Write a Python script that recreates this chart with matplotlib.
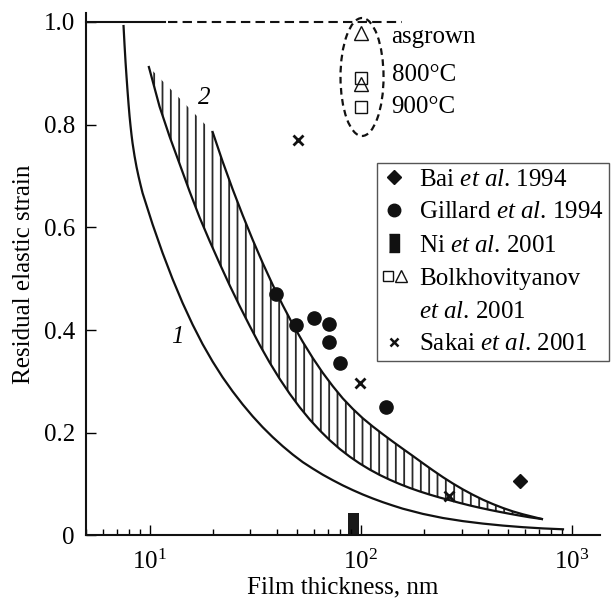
import numpy as np
import matplotlib
matplotlib.use("Agg")
import matplotlib.pyplot as plt
from matplotlib.lines import Line2D
from matplotlib.patches import Ellipse
from matplotlib.legend_handler import HandlerTuple

# ---- data ----
# curve 1
c1_x = [7.529, 7.612, 7.695, 7.780, 7.865, 7.951, 8.038, 8.126, 8.215, 8.305, 8.488, 8.676,
        8.870, 9.066, 9.265, 10.33, 11.52, 12.85, 14.33, 15.99, 17.83, 19.89, 22.18, 24.74,
        27.60, 30.78, 34.33, 38.29, 42.71, 47.63, 53.13, 59.26, 66.10, 73.72, 82.22, 91.70,
        102.2, 114.0, 127.2, 141.8, 158.2, 196.8, 244.8, 304.5, 378.8, 471.2, 586.1, 729.1, 906.9]
c1_y = [0.9920, 0.9550, 0.9219, 0.8927, 0.8654, 0.8401, 0.8168, 0.7973, 0.7797, 0.7642, 0.7389,
        0.7174, 0.6989, 0.6824, 0.6668, 0.6060, 0.5503, 0.4993, 0.4528, 0.4105, 0.3725, 0.3385,
        0.3079, 0.2804, 0.2551, 0.2319, 0.2107, 0.1914, 0.1737, 0.1575, 0.1427, 0.1301, 0.1182,
        0.1075, 0.0974, 0.0882, 0.0797, 0.0719, 0.0647, 0.0582, 0.0520, 0.0419, 0.0339, 0.0278,
        0.0230, 0.0191, 0.0160, 0.0136, 0.0119]

# band 2, lower boundary
lo_x = [9.924, 10.0, 11.15, 12.44, 13.88, 15.48, 17.26, 19.25, 21.47, 23.94, 26.71, 29.78,
        33.22, 37.05, 41.32, 46.09, 51.40, 57.33, 63.94, 71.32, 79.54, 88.71, 98.91, 110.3,
        123.0, 137.2, 153.0, 170.7, 190.4, 212.3, 236.8, 264.1, 294.6, 328.6, 366.5, 408.7,
        455.9, 508.4, 567.1, 632.5, 720.8]
lo_y = [0.9122, 0.9073, 0.8352, 0.7768, 0.7233, 0.6697, 0.6191, 0.5733, 0.5295, 0.4872, 0.4467,
        0.4082, 0.3710, 0.3365, 0.3048, 0.2758, 0.2495, 0.2257, 0.2045, 0.1854, 0.1683, 0.1533,
        0.1400, 0.1282, 0.1177, 0.1084, 0.1000, 0.0924, 0.0856, 0.0794, 0.0737, 0.0685, 0.0632,
        0.0583, 0.0538, 0.0496, 0.0457, 0.0420, 0.0385, 0.0352, 0.0319]
# band 2, upper boundary
up_x = [19.89, 22.18, 24.74, 27.60, 30.78, 34.33, 38.29, 42.71, 47.63, 53.13, 59.26, 66.10,
        73.72, 82.22, 91.70, 102.2, 114.0, 127.2, 141.8, 158.2, 176.4, 196.8, 219.5, 244.8,
        273.0, 304.5, 339.6, 378.8, 422.5, 471.2, 525.5, 586.1, 653.7, 720.8]
up_y = [0.7856, 0.7281, 0.6742, 0.6236, 0.5757, 0.5305, 0.4880, 0.4483, 0.4113, 0.3770, 0.3455,
        0.3166, 0.2906, 0.2668, 0.2464, 0.2282, 0.2121, 0.1971, 0.1827, 0.1686, 0.1548, 0.1406,
        0.1268, 0.1135, 0.1011, 0.0896, 0.0791, 0.0695, 0.0610, 0.0534, 0.0467, 0.0411, 0.0362,
        0.0319]

# strain = 1 reference line
ref_solid_x = [5, 11.8]
ref_dash_x = [12.2, 156]

# experiments
bai_x, bai_y = [567], [0.105]
gil_x = [39.5, 49.6, 59.8, 70.8, 70.7, 79.5, 131]
gil_y = [0.470, 0.409, 0.423, 0.412, 0.377, 0.336, 0.251]
ni_left, ni_width, ni_h = 86.7, 11.1, 0.044
bol_tri_x, bol_tri_y = [100, 100], [0.978, 0.880]
bol_sq_x, bol_sq_y = [100, 100], [0.890, 0.834]
sak_x = [50.5, 98.9, 261]
sak_y = [0.770, 0.297, 0.077]

temp_labels = ["asgrown", "800°C", "900°C"]
temp_y = [0.970, 0.896, 0.834]

plt.rcParams.update({
    "font.family": ["Liberation Serif", "DejaVu Serif"],
    "font.size": 18,
    "mathtext.fontset": "custom",
    "mathtext.rm": "Liberation Serif",
    "mathtext.it": "Liberation Serif:italic",
    "hatch.linewidth": 1.3,
})

fig = plt.figure(figsize=(6.11, 6.05), dpi=100)
ax = fig.add_axes([86 / 611, (605 - 535.4) / 605, 514 / 611, 522.7 / 605])
ax.set_xscale("log")
ax.set_xlim(5, 1358)
ax.set_ylim(0, 1.018)

k = "#111111"
# hatched band
ax.fill(np.r_[lo_x, up_x[::-1]], np.r_[lo_y, up_y[::-1]],
        facecolor="none", edgecolor="#2a2a2a", hatch="||", linewidth=0)
ax.plot(lo_x, lo_y, color=k, lw=1.6)
ax.plot(up_x, up_y, color=k, lw=1.6)
ax.plot(c1_x, c1_y, color=k, lw=1.6)

ax.plot(ref_solid_x, [1, 1], color=k, lw=1.5, clip_on=False)
ax.plot(ref_dash_x, [1, 1], color=k, lw=1.5, dashes=(4.5, 2.5))

ax.add_patch(Ellipse((0.537, 0.877), 0.0837, 0.2257, transform=ax.transAxes,
                     fill=False, ls=(0, (3, 2)), lw=1.6, color=k))

ax.plot(bai_x, bai_y, "D", color=k, ms=7.5, ls="none")
ax.plot(gil_x, gil_y, "o", color=k, ms=9.5, ls="none")
ax.bar(ni_left, ni_h, width=ni_width, align="edge", color="#1a1a1a")
ax.plot(bol_tri_x, bol_tri_y, "^", mfc="none", mec=k, ms=10, mew=1, ls="none")
ax.plot(bol_sq_x, bol_sq_y, "s", mfc="none", mec=k, ms=8.5, mew=1, ls="none")
ax.plot(sak_x, sak_y, "x", color=k, ms=7, mew=2, ls="none")

for lab, yy in zip(temp_labels, temp_y):
    ax.text(140, yy, lab, ha="left", va="center", fontsize=18)

ax.text(13.6, 0.386, "1", fontstyle="italic", fontsize=18, ha="center", va="center")
ax.text(18.2, 0.852, "2", fontstyle="italic", fontsize=18, ha="center", va="center")

# legend
ni_proxy = Line2D([], [], ls="none", marker=[(-0.6, -1), (0.6, -1), (0.6, 1), (-0.6, 1)],
                  ms=13, color=k)
sq_h = Line2D([], [], ls="none", marker="s", mfc="none", mec=k, ms=7, mew=1)
tri_h = Line2D([], [], ls="none", marker="^", mfc="none", mec=k, ms=8, mew=1)
blank = Line2D([], [], ls="none")
sak_h = Line2D([], [], ls="none", marker="x", color=k, ms=6, mew=1.8)
bai_h = Line2D([], [], ls="none", marker="D", color=k, ms=7)
gil_h = Line2D([], [], ls="none", marker="o", color=k, ms=9)
leg = ax.legend([bai_h, gil_h, ni_proxy, (sq_h, tri_h), blank, sak_h],
                [r"Bai $\it{et\ al}$. 1994", r"Gillard $\it{et\ al}$. 1994",
                 r"Ni $\it{et\ al}$. 2001", "Bolkhovityanov", r"$\it{et\ al}$. 2001",
                 r"Sakai $\it{et\ al}$. 2001"],
                handler_map={tuple: HandlerTuple(ndivide=None, pad=0.0)},
                loc="upper right", bbox_to_anchor=(609 / 611, (605 - 163) / 605),
                bbox_transform=fig.transFigure, borderaxespad=0,
                fancybox=False, edgecolor="#555555", framealpha=1,
                handlelength=1.0, handletextpad=0.5, labelspacing=0.42,
                borderpad=0.2, fontsize=18)
leg.get_frame().set_linewidth(1.0)

for s in ["top", "right"]:
    ax.spines[s].set_visible(False)
for s in ["left", "bottom"]:
    ax.spines[s].set_linewidth(1.5)
    ax.spines[s].set_color(k)

ax.set_yticks([0, 0.2, 0.4, 0.6, 0.8, 1.0])
ax.set_yticklabels(["0", "0.2", "0.4", "0.6", "0.8", "1.0"])
ax.set_xticks([10, 100, 1000])
ax.set_xticklabels([r"$10^{1}$", r"$10^{2}$", r"$10^{3}$"])
ax.tick_params(axis="y", direction="in", length=7, width=1, pad=8, labelsize=18)
ax.tick_params(axis="x", which="major", direction="in", length=7, width=1, pad=10, labelsize=18)
ax.tick_params(axis="x", which="minor", direction="in", length=4.3, width=1)

ax.set_xlabel("Film thickness, nm", fontsize=18, labelpad=2)
ax.set_ylabel("Residual elastic strain", fontsize=18, labelpad=6)

fig.savefig("out.png", dpi=100)
